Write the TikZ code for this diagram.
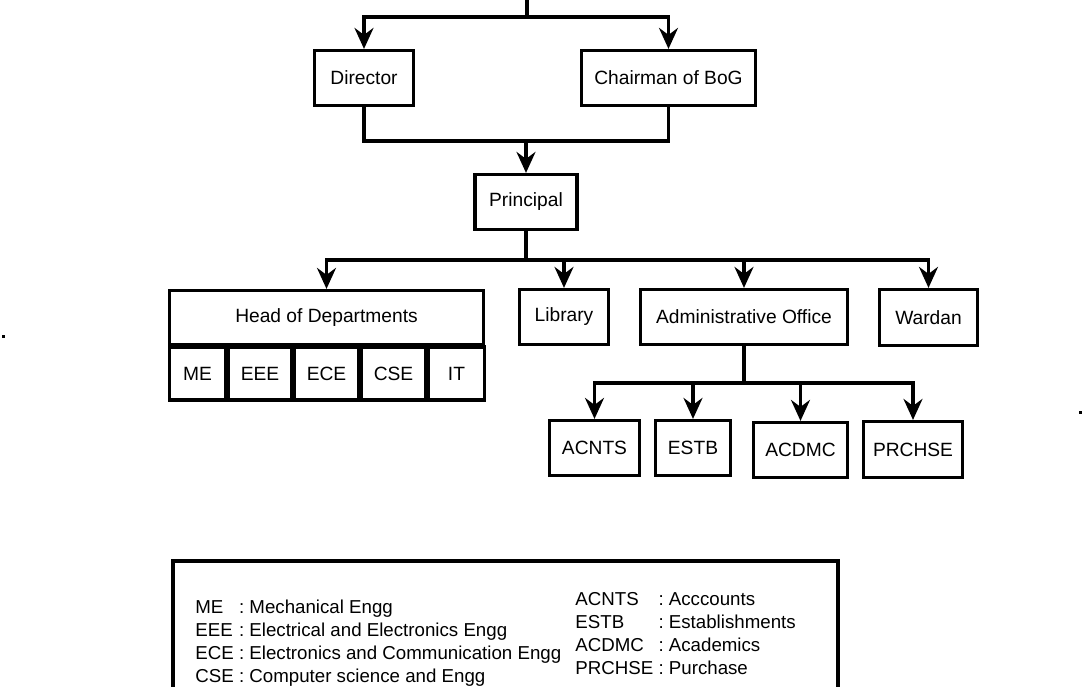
\documentclass[tikz,border=0pt]{standalone}
\usepackage{fontspec}
\setmainfont{Liberation Sans}
\usetikzlibrary{arrows.meta}

\begin{document}
\begin{tikzpicture}[x=0.5pt,y=-0.5pt,
  box/.style={draw,line width=1.6pt,inner sep=0pt,minimum height=27.5pt,font=\fontsize{9.6pt}{11.5pt}\selectfont},
  link/.style={line width=1.6pt},
  arr/.style={line width=1.6pt,-{Stealth[length=10.5pt,width=9.5pt,inset=3.5pt]}},
  legend/.style={inner sep=0pt,anchor=base west,font=\fontsize{9.35pt}{11.65pt}\selectfont}]
\useasboundingbox (0,0) rectangle (1082,686);
\clip (0,0) rectangle (1082,686);
\node[box,minimum width=49.5pt] (director) at (364,78) {Director};
\node[box,minimum width=87pt] (chairman) at (668.5,78) {Chairman of BoG};
\node[box,minimum width=51pt] (principal) at (526,202) {Principal};
\node[box,minimum width=157pt,minimum height=27pt] (hod) at (326.5,317.5) {Head of Departments};
\node[box,minimum width=28pt,minimum height=26.5pt] (me) at (197.5,373.5) {ME};
\node[box,minimum width=31.5pt,minimum height=26.5pt] (eee) at (260,373.5) {EEE};
\node[box,minimum width=32pt,minimum height=26.5pt] (ece) at (326.5,373.5) {ECE};
\node[box,minimum width=32pt,minimum height=26.5pt] (cse) at (393.5,373.5) {CSE};
\node[box,minimum width=28pt,minimum height=26.5pt] (it) at (456.5,373.5) {IT};
\node[box,minimum width=44.5pt] (library) at (564,317) {Library};
\node[box,minimum width=103.5pt] (admin) at (744,317) {Administrative Office};
\node[box,minimum width=49pt,minimum height=28pt] (wardan) at (928.5,317.5) {Wardan};
\node[box,minimum width=45pt] (acnts) at (594.5,448) {ACNTS};
\node[box,minimum width=37.5pt] (estb) at (693,448) {ESTB};
\node[box,minimum width=47pt] (acdmc) at (800.5,450) {ACDMC};
\node[box,minimum width=49.5pt,minimum height=28pt] (prchse) at (913,449.5) {PRCHSE};
\coordinate (top) at (527,-10);
\coordinate (bus1) at (527,17);
\coordinate (bus3) at (526,141);
\coordinate (bus2) at (526,260);
\coordinate (bus4) at (744,383);
\draw[link] (top) -- (bus1);
\draw[arr] (bus1) -| (director);
\draw[arr] (bus1) -| (chairman);
\draw[link] (director) |- (bus3);
\draw[link] (chairman) |- (bus3);
\draw[arr] (bus3) -- (principal);
\draw[link] (principal) -- (bus2);
\draw[arr] (bus2) -| (hod);
\draw[arr] (bus2) -| (library);
\draw[arr] (bus2) -| (admin);
\draw[arr] (bus2) -| (wardan);
\draw[link] (admin) -- (bus4);
\draw[arr] (bus4) -| (acnts);
\draw[arr] (bus4) -| (estb);
\draw[arr] (bus4) -| (acdmc);
\draw[arr] (bus4) -| (prchse);
\draw[link] (173,561) rectangle (838,720);
\node[legend] (legleft) at (195,613) {\begin{tabular}[t]{@{}l@{\ :\ }l@{}}
ME & Mechanical Engg\\
EEE & Electrical and Electronics Engg\\
ECE & Electronics and Communication Engg\\
CSE & Computer science and Engg
\end{tabular}};
\node[legend] (legright) at (575,605) {\begin{tabular}[t]{@{}l@{\ :\ }l@{}}
ACNTS & Acccounts\\
ESTB & Establishments\\
ACDMC & Academics\\
PRCHSE & Purchase
\end{tabular}};
\fill (1.5,334.5) rectangle (4.5,337.5);
\fill (1078.5,410.5) rectangle (1081.5,413.5);
\end{tikzpicture}
\end{document}
